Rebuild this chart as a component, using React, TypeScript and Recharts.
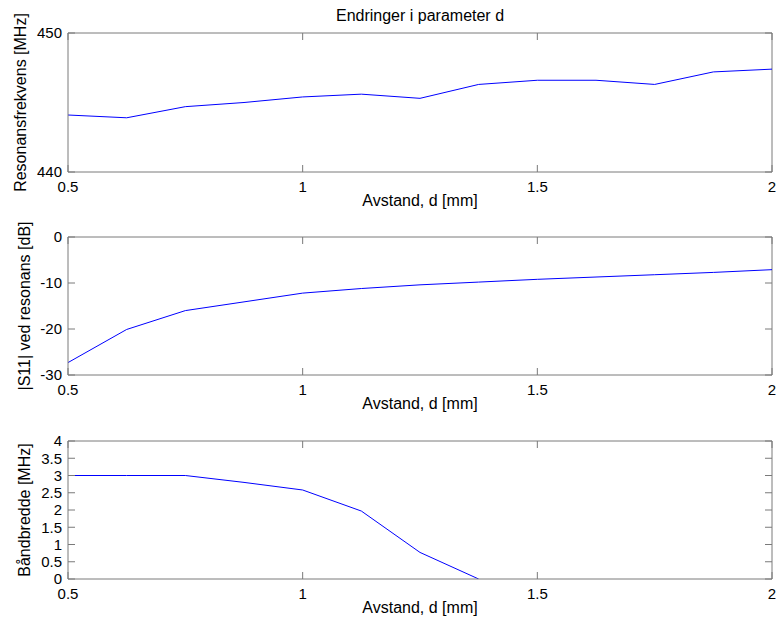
import React from 'react';
import { LineChart, Line, XAxis, YAxis, ReferenceLine } from 'recharts';

// ---- data ----
const distance = [0.5, 0.625, 0.75, 0.875, 1, 1.125, 1.25, 1.375, 1.5, 1.625, 1.75, 1.875, 2];
const resonance = [444.1, 443.9, 444.7, 445.0, 445.4, 445.6, 445.3, 446.3, 446.6, 446.6, 446.3, 447.2, 447.4];
const s11 = [-27.3, -20.1, -16.0, -14.1, -12.2, -11.2, -10.4, -9.8, -9.2, -8.7, -8.2, -7.7, -7.1];
const bandwidth: (number | null)[] = [3.0, 3.0, 3.0, 2.8, 2.58, 1.97, 0.77, 0, null, null, null, null, null];

const xTicks = [0.5, 1, 1.5, 2];
const resTicks = [440, 450];
const s11Ticks = [-30, -20, -10, 0];
const bwTicks = [0, 0.5, 1, 1.5, 2, 2.5, 3, 3.5, 4];

const title = 'Endringer i parameter d';
const xLabel = 'Avstand, d [mm]';
const resLabel = 'Resonansfrekvens [MHz]';
const s11Label = '|S11| ved resonans [dB]';
const bwLabel = 'Båndbredde [MHz]';

const AXIS = '#7a7a7a';
const LINE = '#0000ff';
const TICK_FONT = 15;
const LABEL_FONT = 16;
const TICK_LEN = 7;
const PLOT_W = 704;

const makeYLabel = (text: string, bx: number) => (props: any) => {
  const vb = props.viewBox || {};
  const cy = vb.y + vb.height / 2;
  return (
    <text x={bx} y={cy} transform={`rotate(-90, ${bx}, ${cy})`} textAnchor="middle" fontSize={LABEL_FONT} fill="#000">
      {text}
    </text>
  );
};

const makeXLabel = (text: string, dy: number, plotH: number, withTitle: boolean) => (props: any) => {
  const vb = props.viewBox || {};
  const cx = vb.x + vb.width / 2;
  return (
    <g>
      <text x={cx} y={vb.y + dy} textAnchor="middle" fontSize={LABEL_FONT} fill="#000">
        {text}
      </text>
      {withTitle ? (
        <text x={cx} y={vb.y - plotH - 12} textAnchor="middle" fontSize={LABEL_FONT} fill="#000">
          {title}
        </text>
      ) : null}
    </g>
  );
};

const makeXTick = (plotH: number) => (props: any) => {
  const { x, y, payload } = props;
  return (
    <g>
      <line x1={x} y1={y} x2={x} y2={y - TICK_LEN} stroke={AXIS} />
      <line x1={x} y1={y - plotH} x2={x} y2={y - plotH + TICK_LEN} stroke={AXIS} />
      <text x={x} y={y + 20} textAnchor="middle" fontSize={TICK_FONT} fill="#000">
        {String(payload.value)}
      </text>
    </g>
  );
};

const makeYTick = () => (props: any) => {
  const { x, y, payload } = props;
  return (
    <g>
      <line x1={x} y1={y} x2={x + TICK_LEN} y2={y} stroke={AXIS} />
      <line x1={x + PLOT_W - TICK_LEN} y1={y} x2={x + PLOT_W} y2={y} stroke={AXIS} />
      <text x={x - 6} y={y} dy="0.36em" textAnchor="end" fontSize={TICK_FONT} fill="#000">
        {String(payload.value)}
      </text>
    </g>
  );
};

type PanelProps = {
  top: number;
  height: number;
  plotTop: number;
  plotBottom: number;
  values: (number | null)[];
  yDomain: [number, number];
  yTicks: number[];
  yLabel: string;
  yLabelX: number;
  showTitle?: boolean;
};

function Panel({ top, height, plotTop, plotBottom, values, yDomain, yTicks, yLabel, yLabelX, showTitle }: PanelProps) {
  const data = distance.map((d, i) => ({ d, v: values[i] }));
  const plotH = plotBottom - plotTop;
  const margin = {
    top: plotTop - top,
    right: 5,
    left: 8,
    bottom: top + height - plotBottom - 40,
  };
  return (
    <div style={{ position: 'absolute', left: 0, top, width: 777, height }}>
      <LineChart width={777} height={height} data={data} margin={margin}>
        <XAxis
          xAxisId="b"
          type="number"
          dataKey="d"
          domain={[0.5, 2]}
          ticks={xTicks}
          interval={0}
          allowDataOverflow
          height={40}
          tickSize={0}
          tickMargin={0}
          tickLine={false}
          stroke={AXIS}
          tick={makeXTick(plotH)}
          label={makeXLabel(xLabel, 34, plotH, !!showTitle)}
        />
        <YAxis
          yAxisId="l"
          type="number"
          domain={yDomain}
          ticks={yTicks}
          interval={0}
          allowDataOverflow
          width={60}
          tickSize={0}
          tickMargin={0}
          tickLine={false}
          stroke={AXIS}
          tick={makeYTick()}
          label={makeYLabel(yLabel, yLabelX)}
        />
        <ReferenceLine xAxisId="b" yAxisId="l" y={yDomain[1]} stroke={AXIS} strokeWidth={1} ifOverflow="extendDomain" />
        <ReferenceLine xAxisId="b" yAxisId="l" x={2} stroke={AXIS} strokeWidth={1} ifOverflow="extendDomain" />
        <Line
          xAxisId="b"
          yAxisId="l"
          type="linear"
          dataKey="v"
          stroke={LINE}
          strokeWidth={1}
          dot={false}
          activeDot={false}
          connectNulls={false}
          isAnimationActive={false}
        />
      </LineChart>
    </div>
  );
}

export default function App() {
  return (
    <div
      style={{
        position: 'absolute',
        left: 0,
        top: 0,
        width: 777,
        height: 626,
        background: '#fff',
        fontFamily: '"Liberation Sans", Arial, Helvetica, sans-serif',
      }}
    >
      <Panel top={0} height={220} plotTop={33} plotBottom={172} values={resonance} yDomain={[440, 450]} yTicks={resTicks} yLabel={resLabel} yLabelX={26} showTitle />
      <Panel top={220} height={200} plotTop={237} plotBottom={375} values={s11} yDomain={[-30, 0]} yTicks={s11Ticks} yLabel={s11Label} yLabelX={30} />
      <Panel top={420} height={206} plotTop={441} plotBottom={579} values={bandwidth} yDomain={[0, 4]} yTicks={bwTicks} yLabel={bwLabel} yLabelX={30} />
    </div>
  );
}
